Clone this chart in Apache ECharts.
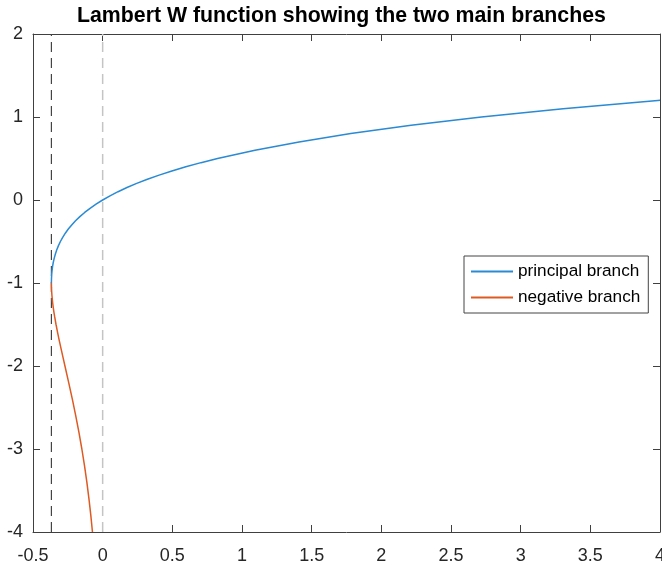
<!DOCTYPE html>
<html>
<head>
<meta charset="utf-8">
<script src="https://cdn.jsdelivr.net/npm/echarts@6/dist/echarts.min.js"></script>
<style>html,body{margin:0;padding:0;background:#fff;}#c{width:662px;height:567px;}</style>
</head>
<body>
<div id="c"></div>
<script>
// Principal branch W0
var xPrincipal = [-0.3679,-0.36786,-0.36781,-0.3674,-0.3659,-0.3633,-0.3595,-0.3543,-0.3476,-0.3393,-0.3293,-0.3173,-0.3033,-0.2869,-0.2681,-0.2466,-0.2222,-0.1947,-0.1637,-0.1291,-0.0905,-0.0476,0,0.0526,0.1105,0.1743,0.2443,0.3210,0.4050,0.4967,0.5967,0.7057,0.8244,1.0933,1.4096,1.7804,2.2136,2.7183,3.3046,3.9841,4.0];
var yPrincipal = [-1,-0.99,-0.98,-0.95,-0.9,-0.85,-0.8,-0.75,-0.7,-0.65,-0.6,-0.55,-0.5,-0.45,-0.4,-0.35,-0.3,-0.25,-0.2,-0.15,-0.1,-0.05,0,0.05,0.1,0.15,0.2,0.25,0.3,0.35,0.4,0.45,0.5,0.6,0.7,0.8,0.9,1.0,1.1,1.2,1.2022];
// Negative branch W-1
var xNegative = [-0.3679,-0.3678,-0.3674,-0.3662,-0.3641,-0.3614,-0.3581,-0.3543,-0.3500,-0.3452,-0.3347,-0.3230,-0.3106,-0.2975,-0.2842,-0.2707,-0.2438,-0.2177,-0.1931,-0.1703,-0.1494,-0.1304,-0.1135,-0.0984,-0.0850,-0.0733];
var yNegative = [-1,-1.02,-1.05,-1.1,-1.15,-1.2,-1.25,-1.3,-1.35,-1.4,-1.5,-1.6,-1.7,-1.8,-1.9,-2.0,-2.2,-2.4,-2.6,-2.8,-3.0,-3.2,-3.4,-3.6,-3.8,-4.0];
// Vertical reference lines
var branchPointX = -0.3679;
var zeroX = 0;
var seriesNames = ['principal branch','negative branch'];
var xTicks = [-0.5,0,0.5,1,1.5,2,2.5,3,3.5,4];
var yTicks = [-4,-3,-2,-1,0,1,2];

function pairs(xs, ys){ return xs.map(function(x,i){ return [x, ys[i]]; }); }

var chart = echarts.init(document.getElementById('c'), null, {renderer:'canvas'});
var axisCol = '#404040';
var font = 'Liberation Sans, Arial, sans-serif';
var option = {
  animation:false,
  backgroundColor:'#fff',
  title:{
    text:'Lambert W function showing the two main branches',
    left:77, top:6, padding:0,
    textStyle:{fontFamily:font, fontSize:21.3, fontWeight:'bold', color:'#000'}
  },
  grid:{left:33, right:2, top:34, bottom:35, containLabel:false, outerBoundsMode:'none'},
  legend:{
    orient:'vertical', left:464, top:256, data:seriesNames,
    itemWidth:42, itemHeight:10, itemGap:9,
    padding:[7,8,7,6],
    itemStyle:{opacity:0},
    borderColor:'#444', borderWidth:1, backgroundColor:'#fff',
    textStyle:{fontFamily:font, fontSize:17.2, color:'#000', padding:[0,0,0,0]}
  },
  xAxis:[{
    type:'value', min:xTicks[0], max:xTicks[xTicks.length-1], interval:0.5,
    axisLine:{show:true, onZero:false, lineStyle:{color:axisCol, width:1}},
    axisTick:{show:true, inside:true, length:7, lineStyle:{color:axisCol}},
    axisLabel:{show:true, margin:15, fontFamily:font, fontSize:18, color:'#262626', showMinLabel:true, showMaxLabel:true},
    splitLine:{show:false}
  },{
    type:'value', position:'top', min:xTicks[0], max:xTicks[xTicks.length-1], interval:0.5,
    axisLine:{show:true, onZero:false, lineStyle:{color:axisCol, width:1}},
    axisTick:{show:true, inside:true, length:7, lineStyle:{color:axisCol}},
    axisLabel:{show:false}, splitLine:{show:false}
  }],
  yAxis:[{
    type:'value', min:yTicks[0], max:yTicks[yTicks.length-1], interval:1,
    axisLine:{show:true, onZero:false, lineStyle:{color:axisCol, width:1}},
    axisTick:{show:true, inside:true, length:7, lineStyle:{color:axisCol}},
    axisLabel:{show:true, margin:10, fontFamily:font, fontSize:18, color:'#262626', showMinLabel:true, showMaxLabel:true},
    splitLine:{show:false}
  },{
    type:'value', position:'right', min:yTicks[0], max:yTicks[yTicks.length-1], interval:1,
    axisLine:{show:true, onZero:false, lineStyle:{color:axisCol, width:1}},
    axisTick:{show:true, inside:true, length:7, lineStyle:{color:axisCol}},
    axisLabel:{show:false}, splitLine:{show:false}
  }],
  series:[
    {name:'branchline', type:'line', data:[[branchPointX,yTicks[0]],[branchPointX,yTicks[yTicks.length-1]]], symbol:'none',
     lineStyle:{color:'#444', width:1.2, type:[10,6]}, silent:true, z:1},
    {name:'zeroline', type:'line', data:[[zeroX,yTicks[0]],[zeroX,yTicks[yTicks.length-1]]], symbol:'none',
     lineStyle:{color:'#c4c4c4', width:1.5, type:[10,6]}, silent:true, z:1},
    {name:seriesNames[0], type:'line', data:pairs(xPrincipal,yPrincipal), symbol:'none', smooth:false,
     lineStyle:{color:'#2a8ad3', width:1.5}, itemStyle:{color:'#2a8ad3'}, z:3},
    {name:seriesNames[1], type:'line', data:pairs(xNegative,yNegative), symbol:'none', smooth:false,
     lineStyle:{color:'#de5a22', width:1.5}, itemStyle:{color:'#de5a22'}, z:3}
  ]
};
chart.setOption(option);
</script>
</body>
</html>
